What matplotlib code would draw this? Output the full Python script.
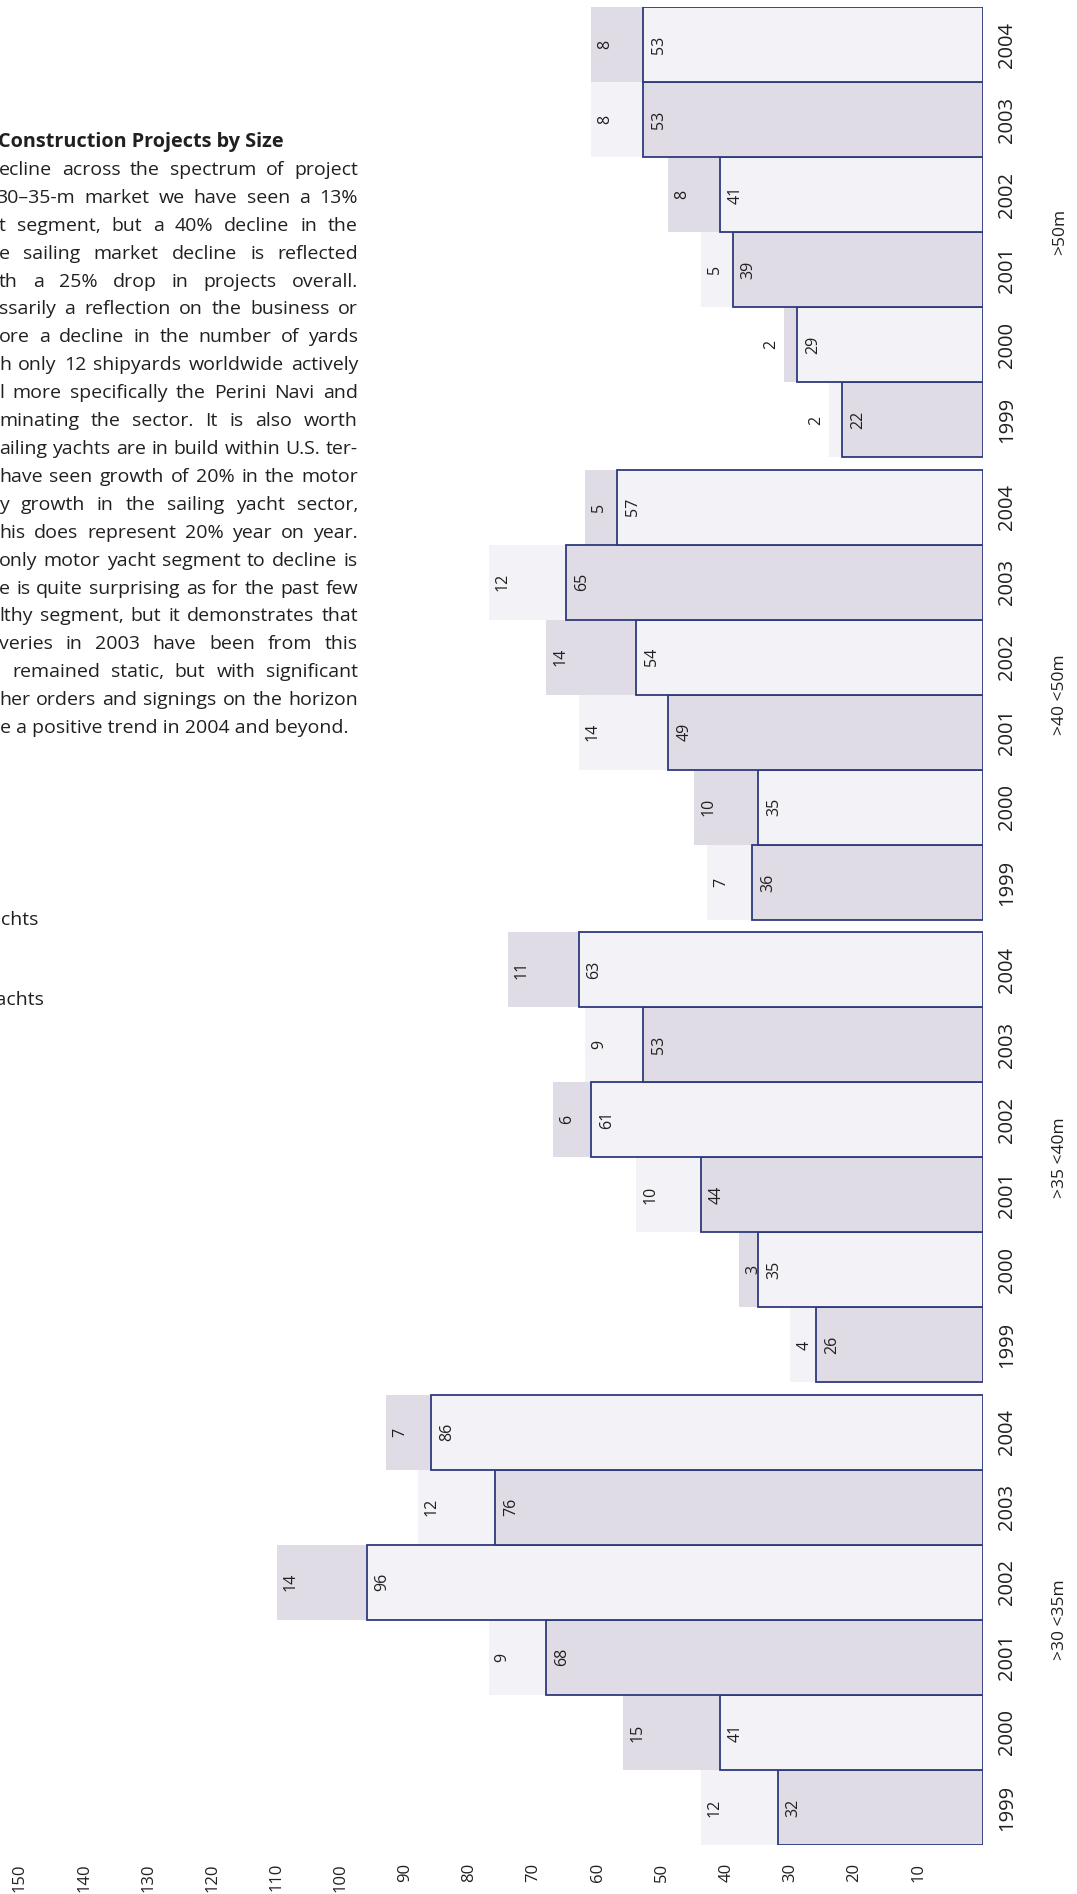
import matplotlib
matplotlib.use("Agg")
import matplotlib.pyplot as plt
from matplotlib.transforms import blended_transform_factory

# ---- data -------------------------------------------------------------
size_classes = [">30 <35m", ">35 <40m", ">40 <50m", ">50m"]
years = ["1999", "2000", "2001", "2002", "2003", "2004"]

motor_30_35 = [32, 41, 68, 96, 76, 86]
sail_30_35 = [12, 15, 9, 14, 12, 7]
motor_35_40 = [26, 35, 44, 61, 53, 63]
sail_35_40 = [4, 3, 10, 6, 9, 11]
motor_40_50 = [36, 35, 49, 54, 65, 57]
sail_40_50 = [7, 10, 14, 14, 12, 5]
motor_50 = [22, 29, 39, 41, 53, 53]
sail_50 = [2, 2, 5, 8, 8, 8]

motor_series = [motor_30_35, motor_35_40, motor_40_50, motor_50]
sail_series = [sail_30_35, sail_35_40, sail_40_50, sail_50]

value_ticks = list(range(10, 151, 10))

title = "Construction Projects by Size"
body_lines = [
    "ecline across the spectrum of project",
    "30\u201335-m market we have seen a 13%",
    "t segment, but a 40% decline in the",
    "e sailing market decline is reflected",
    "th a 25% drop in projects overall.",
    "ssarily a reflection on the business or",
    "ore a decline in the number of yards",
    "h only 12 shipyards worldwide actively",
    "l more specifically the Perini Navi and",
    "minating the sector. It is also worth",
    "ailing yachts are in build within U.S. ter-",
    "have seen growth of 20% in the motor",
    "y growth in the sailing yacht sector,",
    "his does represent 20% year on year.",
    "only motor yacht segment to decline is",
    "e is quite surprising as for the past few",
    "lthy segment, but it demonstrates that",
    "veries in 2003 have been from this",
    "remained static, but with significant",
    "her orders and signings on the horizon",
    "e a positive trend in 2004 and beyond.",
]
legend_labels = ["Motor yachts", "Sailing yachts"]

# ---- style ------------------------------------------------------------
plt.rcParams["font.family"] = ["Open Sans", "DejaVu Sans"]
TEXT = "#231f20"
DARK = "#dfdce6"
LIGHT = "#f3f2f6"
EDGE = "#2f3a7e"

W, H = 1077, 1894
fig = plt.figure(figsize=(W / 100, H / 100), dpi=100)
fig.patch.set_facecolor("white")


def fx(x):
    return x / W


def fy(y):
    return 1 - y / H


# ---- bar chart (value axis runs right-to-left) -------------------------
ax = fig.add_axes([fx(20), fy(1845), fx(983) - fx(20), fy(7) - fy(1845)])
group_gap = 0.16
n_years = len(years)
label_size = 11.5

for gi, (motor, sail) in enumerate(zip(motor_series, sail_series)):
    base = gi * (n_years + group_gap)
    for yi in range(n_years):
        yc = base + yi + 0.5
        m_col, s_col = (DARK, LIGHT) if yi % 2 == 0 else (LIGHT, DARK)
        ax.barh(yc, sail[yi], left=motor[yi], height=1.0, color=s_col,
                edgecolor="none", linewidth=0, zorder=1)
        ax.barh(yc, motor[yi], left=0, height=1.0, color=m_col,
                edgecolor=EDGE, linewidth=1.3, zorder=2)
        ax.annotate(str(motor[yi]), (motor[yi], yc), xytext=(8, 0),
                    textcoords="offset pixels", rotation=90, ha="left",
                    va="center", fontsize=label_size, color=TEXT, zorder=3)
        total = motor[yi] + sail[yi]
        if sail[yi] >= 3:
            ax.annotate(str(sail[yi]), (total, yc), xytext=(6, 0),
                        textcoords="offset pixels", rotation=90, ha="left",
                        va="center", fontsize=label_size, color=TEXT,
                        zorder=3)
        else:
            ax.annotate(str(sail[yi]), (total, yc), xytext=(-5, 0),
                        textcoords="offset pixels", rotation=90, ha="right",
                        va="center", fontsize=label_size, color=TEXT,
                        zorder=3)

ax.set_xlim(150, 0)
ax.set_ylim(0, len(size_classes) * n_years + (len(size_classes) - 1) * group_gap)
ax.set_xticks(value_ticks)
ax.set_xticklabels([str(v) for v in value_ticks])
ax.tick_params(axis="x", length=0, pad=13, labelrotation=90, labelsize=12,
               labelcolor=TEXT)
ax.set_yticks([])
for sp in ax.spines.values():
    sp.set_visible(False)
ax.patch.set_alpha(0)

# year and size-class labels to the right of the bars
side = blended_transform_factory(fig.transFigure, ax.transData)
for gi, cls in enumerate(size_classes):
    base = gi * (n_years + group_gap)
    for yi, yr in enumerate(years):
        ax.text(fx(1007), base + yi + 0.5, yr, transform=side, rotation=90,
                ha="center", va="center", fontsize=14.5, color=TEXT)
    ax.text(fx(1060), base + n_years / 2, cls, transform=side, rotation=90,
            ha="center", va="center", fontsize=12.5, color=TEXT)

# ---- article text (justified column) ----------------------------------
renderer = fig.canvas.get_renderer()
body_font = dict(fontsize=14, color=TEXT)


def text_width(s, **kw):
    t = fig.text(0, 0, s, **kw)
    w = t.get_window_extent(renderer).width
    t.remove()
    return w


fig.text(fx(284), fy(147), title, ha="right", va="baseline", fontsize=14.3,
         fontweight="bold", color=TEXT)

first_baseline = 175
line_step = 27.9
right_edge = 358
line_starts = {1: -4, 18: 12}
for i, line in enumerate(body_lines):
    yb = first_baseline + i * line_step
    if i == len(body_lines) - 1:
        fig.text(fx(348), fy(yb), line, ha="right", va="baseline", **body_font)
        continue
    words = line.split()
    widths = [text_width(w, **body_font) for w in words]
    x0 = line_starts.get(i, -1)
    gap = (right_edge - x0 - sum(widths)) / (len(words) - 1)
    x = x0
    for w, wd in zip(words, widths):
        fig.text(fx(x), fy(yb), w, ha="left", va="baseline", **body_font)
        x += wd + gap

# legend labels (swatches sit beyond the page edge)
fig.text(fx(38), fy(925), legend_labels[0], ha="right", va="baseline",
         **body_font)
fig.text(fx(44), fy(1005), legend_labels[1], ha="right", va="baseline",
         **body_font)

fig.savefig("out.png", dpi=100)
